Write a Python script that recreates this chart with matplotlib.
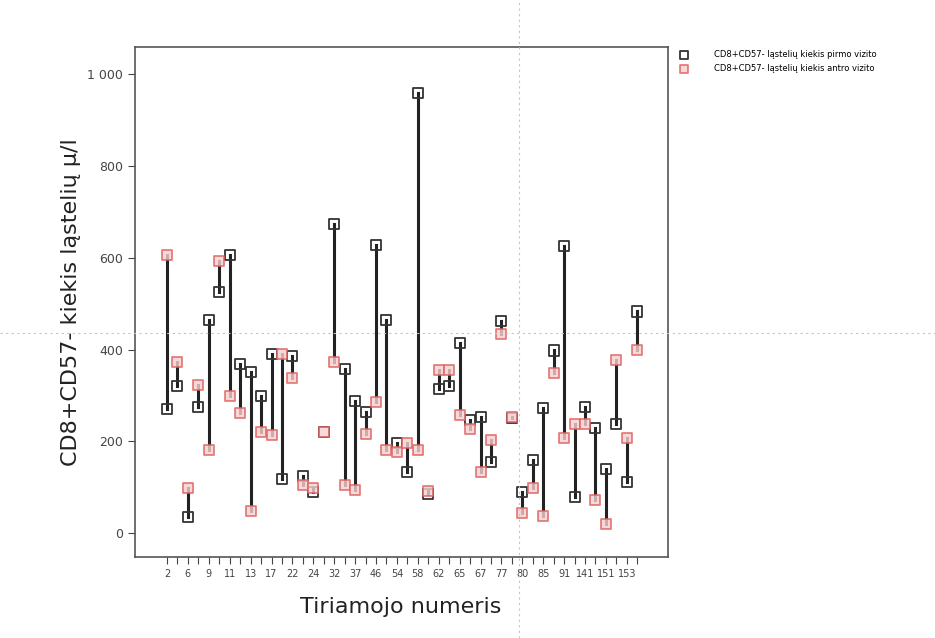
import numpy as np
import matplotlib
matplotlib.use('Agg')
from matplotlib import pyplot as plt
from matplotlib.lines import Line2D

# subject numbers (only every other one is labelled on the axis)
subjects = ['2', '4', '6', '8', '9', '10', '11', '12', '13', '16', '17', '19',
            '22', '23', '24', '30', '32', '36', '37', '40', '46', '51', '54', '56',
            '58', '60', '62', '63', '65', '66', '67', '75', '77', '78', '80', '83',
            '85', '88', '91', '98', '141', '146', '151', '152', '153', '156']

# first visit
visit1 = [270, 321, 35, 275, 464, 525, 606, 369, 351, 299, 391, 119,
          385, 124, 90, 220, 673, 358, 288, 265, 627, 464, 197, 134,
          960, 85, 314, 320, 414, 247, 253, 155, 463, 250, 90, 159,
          273, 398, 626, 79, 274, 230, 140, 238, 111, 483]
# second visit
visit2 = [607, 372, 99, 323, 181, 592, 299, 262, 48, 221, 213, 390,
          337, 104, 98, 220, 372, 105, 93, 217, 285, 182, 176, 196,
          182, 92, 355, 355, 257, 226, 133, 202, 433, 254, 44, 99,
          38, 350, 208, 237, 238, 72, 20, 378, 208, 399]

label1 = 'CD8+CD57- ląstelių kiekis pirmo vizito'
label2 = 'CD8+CD57- ląstelių kiekis antro vizito'

x = np.arange(len(subjects))

fig = plt.figure(figsize=(9.35, 6.38), dpi=100)
ax = fig.add_axes([0.144, 0.127, 0.570, 0.799])

for xi, a, b in zip(x, visit1, visit2):
    ax.plot([xi, xi], [a, b], color='#222222', lw=2.2, zorder=2)

ax.scatter(x, visit1, marker='s', s=52, facecolors='none', edgecolors='#333333',
           linewidths=1.3, zorder=3, label=label1)
ax.scatter(x, visit2, marker='s', s=52, facecolors='#f6d0d0', edgecolors='#e06060',
           linewidths=1.3, alpha=0.8, zorder=3, label=label2)

ax.set_xlim(-3.1, 47.9)
ax.set_ylim(-52, 1059)
ax.set_xticks(x)
ax.set_xticklabels([s if i % 2 == 0 else '' for i, s in enumerate(subjects)],
                   fontsize=7, color='#444444')
ax.set_yticks([0, 200, 400, 600, 800, 1000])
ax.set_yticklabels(['0', '200', '400', '600', '800', '1 000'], fontsize=9, color='#444444')
ax.tick_params(direction='out', length=5, color='#444444')

for sp in ax.spines.values():
    sp.set_color('#555555')
    sp.set_linewidth(1.2)

ax.set_ylabel('CD8+CD57- kiekis ląstelių µ/l', fontsize=16, color='#222222', labelpad=4)
ax.set_xlabel('Tiriamojo numeris', fontsize=16, color='#222222', labelpad=13)

ax.legend(loc='upper left', bbox_to_anchor=(1.005, 1.005), frameon=False, fontsize=6,
          handletextpad=2.5, borderaxespad=0.3, labelspacing=0.6, markerscale=0.8)

# dotted crosshair across the whole figure
fig.add_artist(Line2D([0.555, 0.555], [0, 1], transform=fig.transFigure,
                      color='#c4c4c4', lw=0.8, ls=(0, (2, 3))))
fig.add_artist(Line2D([0, 1], [0.478, 0.478], transform=fig.transFigure,
                      color='#c4c4c4', lw=0.8, ls=(0, (2, 3))))

fig.savefig('out.png', dpi=100)
